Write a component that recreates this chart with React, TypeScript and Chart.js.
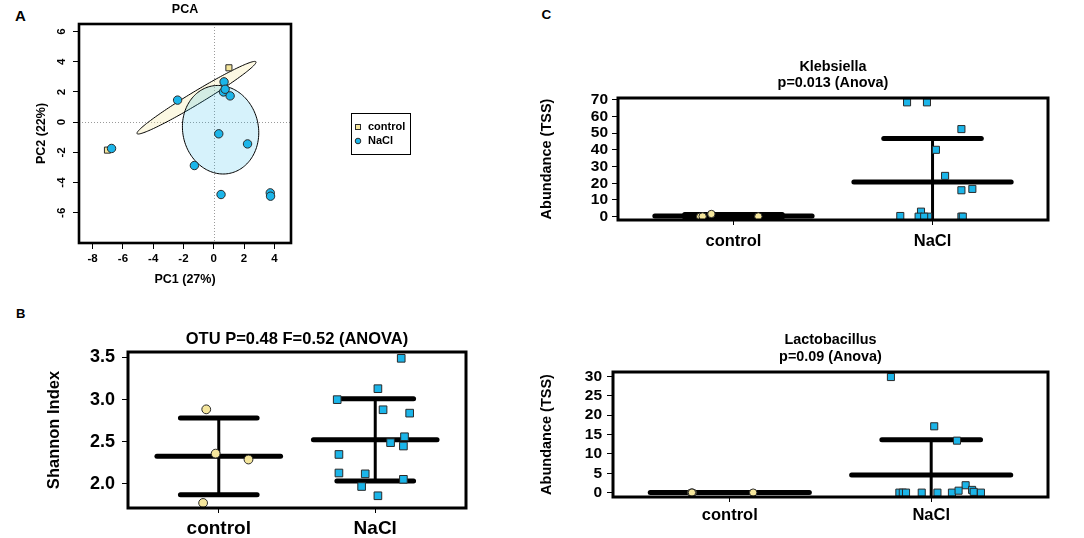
import React, { useEffect, useRef } from "react";
import { Chart, registerables } from "chart.js";

Chart.register(...registerables);

const FONT = "'Liberation Sans', Arial, Helvetica, sans-serif";
const YELLOW = "#F5E69C";
const BLUE = "#1BB5E9";
const EDGE = "#2a2a2a";

const groupLabels = ["control", "NaCl"];

// ---------- Panel A: PCA ----------
const pcaControlX = [1.0, 0.68, 0.72, -7.02];
const pcaControlY = [3.6, 2.58, 2.3, -1.85];
const pcaNaclX = [-2.39, 0.68, 0.64, 0.75, 1.08, -6.75, 0.33, 2.23, -1.28, 0.48, 3.73, 3.75];
const pcaNaclY = [1.46, 2.67, 2.0, 2.18, 1.74, -1.74, -0.77, -1.44, -2.87, -4.79, -4.68, -4.9];
const pcaXTicks = [-8, -6, -4, -2, 0, 2, 4];
const pcaYTicks = [-6, -4, -2, 0, 2, 4, 6];
const pcaControlEllipse = { cx: -1.14, cy: 1.62, a: 4.59, b: 0.42, angle: 31.2 };
const pcaNaclEllipse = { cx: 0.45, cy: -0.5, a: 2.5, b: 2.95, angle: 12 };

// ---------- Panel B: Shannon ----------
const shannonControlX = [0.92, 0.98, 1.19, 0.9];
const shannonControlY = [2.885, 2.36, 2.29, 1.775];
const shannonNaclX = [2.166, 2.017, 1.757, 2.05, 2.22, 2.187, 2.098, 2.18, 1.768, 1.768, 1.936, 2.18, 1.913, 2.017];
const shannonNaclY = [3.49, 3.13, 3.0, 2.88, 2.84, 2.56, 2.49, 2.45, 2.35, 2.13, 2.12, 2.055, 1.97, 1.86];
const shannonYTicks = [2.0, 2.5, 3.0, 3.5];

// ---------- Panel C: Klebsiella ----------
const klebControlX = [0.833, 0.845, 0.889, 1.125];
const klebControlY = [0.0, 0.1, 1.6, 0.1];
const klebNaclX = [1.872, 1.972, 2.145, 2.017, 2.063, 2.145, 2.2, 1.838, 1.942, 1.93, 1.978, 1.958, 2.145, 2.152];
const klebNaclY = [68.4, 68.4, 52.4, 40.0, 24.4, 15.8, 16.6, 0.4, 3.0, 0, 0, 0, 0, 0];
const klebYTicks = [0, 10, 20, 30, 40, 50, 60, 70];

// ---------- Panel C: Lactobacillus ----------
const lactoControlX = [0.808, 0.816, 1.116, 0.812];
const lactoControlY = [0, 0, 0, 0];
const lactoNaclX = [1.8, 2.015, 2.128, 2.171, 1.842, 1.859, 1.875, 1.953, 2.031, 2.103, 2.136, 2.203, 2.211, 2.247];
const lactoNaclY = [29.8, 17.1, 13.4, 1.9, 0, 0, 0, 0, 0, 0, 0.5, 0.7, 0.2, 0];
const lactoYTicks = [0, 5, 10, 15, 20, 25, 30];

// ---------- helpers ----------
type Box = { left: number; top: number; width: number; height: number };
type Area = { left: number; right: number; top: number; bottom: number };

const pts = (xs: number[], ys: number[]) => xs.map((x, i) => ({ x, y: ys[i] }));
const mean = (v: number[]) => v.reduce((a, b) => a + b, 0) / v.length;
const sd = (v: number[]) => {
  const m = mean(v);
  return Math.sqrt(v.reduce((a, b) => a + (b - m) * (b - m), 0) / (v.length - 1));
};

const MEAN_HALF = 0.395;
const SD_HALF = 0.245;

function errorBars(group: number, values: number[]) {
  const m = mean(values);
  const s = sd(values);
  const base = {
    showLine: true,
    pointRadius: 0,
    borderColor: "#000",
    backgroundColor: "#000",
    borderCapStyle: "round",
    order: 2,
    clip: 0,
  };
  return [
    { ...base, borderWidth: 5, data: [{ x: group - MEAN_HALF, y: m }, { x: group + MEAN_HALF, y: m }] },
    { ...base, borderWidth: 5, data: [{ x: group - SD_HALF, y: m + s }, { x: group + SD_HALF, y: m + s }] },
    { ...base, borderWidth: 5, data: [{ x: group - SD_HALF, y: m - s }, { x: group + SD_HALF, y: m - s }] },
    { ...base, borderWidth: 3, borderCapStyle: "butt", data: [{ x: group, y: m - s }, { x: group, y: m + s }] },
  ];
}

const framePlugin = {
  id: "frame",
  afterDatasetsDraw(chart: any, _a: any, opts: any) {
    const { ctx, chartArea: a } = chart;
    ctx.save();
    ctx.lineWidth = opts.width || 3;
    ctx.strokeStyle = "#000";
    ctx.strokeRect(a.left, a.top, a.right - a.left, a.bottom - a.top);
    ctx.restore();
  },
};

function ellipsePath(ctx: any, chart: any, e: any) {
  const xs = chart.scales.x;
  const ys = chart.scales.y;
  const th = (e.angle * Math.PI) / 180;
  ctx.beginPath();
  for (let k = 0; k <= 160; k++) {
    const t = (k / 160) * 2 * Math.PI;
    const u = e.a * Math.cos(t);
    const v = e.b * Math.sin(t);
    const dx = u * Math.cos(th) - v * Math.sin(th);
    const dy = u * Math.sin(th) + v * Math.cos(th);
    const px = xs.getPixelForValue(e.cx + dx);
    const py = ys.getPixelForValue(e.cy + dy);
    if (k === 0) ctx.moveTo(px, py);
    else ctx.lineTo(px, py);
  }
  ctx.closePath();
}

const pcaDecorPlugin = {
  id: "pcaDecor",
  beforeDatasetsDraw(chart: any, _a: any, opts: any) {
    const { ctx, chartArea: a } = chart;
    const xs = chart.scales.x;
    const ys = chart.scales.y;
    ctx.save();
    ctx.beginPath();
    ctx.rect(a.left, a.top, a.right - a.left, a.bottom - a.top);
    ctx.clip();
    // dotted zero lines
    ctx.strokeStyle = "#9a9a9a";
    ctx.lineWidth = 1;
    ctx.setLineDash([1, 2]);
    const x0 = Math.round(xs.getPixelForValue(0)) + 0.5;
    const y0 = Math.round(ys.getPixelForValue(0)) + 0.5;
    ctx.beginPath();
    ctx.moveTo(x0, a.top);
    ctx.lineTo(x0, a.bottom);
    ctx.moveTo(a.left, y0);
    ctx.lineTo(a.right, y0);
    ctx.stroke();
    ctx.setLineDash([]);
    // ellipses
    (opts.ellipses || []).forEach((e: any) => {
      ellipsePath(ctx, chart, e);
      ctx.fillStyle = e.fill;
      ctx.fill();
      ctx.strokeStyle = "#000";
      ctx.lineWidth = 1;
      ctx.stroke();
    });
    ctx.restore();
  },
};

const boxLegendPlugin = {
  id: "boxLegend",
  afterDraw(chart: any, _a: any, o: any) {
    const ctx = chart.ctx;
    ctx.save();
    ctx.strokeStyle = "#000";
    ctx.lineWidth = 1;
    ctx.strokeRect(o.x + 0.5, o.y + 0.5, o.w, o.h);
    ctx.font = `bold ${o.fontSize}px ${FONT}`;
    ctx.textBaseline = "middle";
    ctx.textAlign = "left";
    const items = chart.data.datasets.filter((d: any) => d.label);
    items.forEach((d: any, i: number) => {
      const cy = o.y + o.firstRow + i * o.rowGap;
      ctx.fillStyle = d.backgroundColor;
      ctx.strokeStyle = EDGE;
      ctx.lineWidth = 1;
      if (d.pointStyle === "rect") {
        const s = o.markerSize;
        ctx.fillRect(o.markerX - s / 2, cy - s / 2, s, s);
        ctx.strokeRect(o.markerX - s / 2, cy - s / 2, s, s);
      } else {
        ctx.beginPath();
        ctx.arc(o.markerX, cy, o.markerSize / 2 + 0.3, 0, Math.PI * 2);
        ctx.fill();
        ctx.stroke();
      }
      ctx.fillStyle = "#000";
      ctx.fillText(d.label, o.textX, cy);
    });
    ctx.restore();
  },
};

const bold = (size: number, lineHeight = 1.2) => ({ family: FONT, size, weight: "bold" as const, lineHeight });

// ---------- PCA config ----------
const A_BOX: Box = { left: 0, top: 0, width: 440, height: 290 };
const A_AREA: Area = { left: 79, right: 291, top: 24, bottom: 243 };

function pcaConfig(): any {
  const box = A_BOX;
  const area = A_AREA;
  const titleSize = 12.5;
  const lh = titleSize * 1.2;
  const padTop = 9.6 - lh / 2;
  const titlePb = area.top - box.top - padTop - lh;
  const tickSize = 11.5;
  return {
    type: "scatter",
    data: {
      datasets: [
        {
          label: "control",
          data: pts(pcaControlX, pcaControlY),
          pointStyle: "rect",
          pointRadius: 4.3,
          backgroundColor: YELLOW,
          borderColor: EDGE,
          borderWidth: 1,
          order: 1,
          clip: false,
        },
        {
          label: "NaCl",
          data: pts(pcaNaclX, pcaNaclY),
          pointStyle: "circle",
          pointRadius: 4.2,
          backgroundColor: BLUE,
          borderColor: EDGE,
          borderWidth: 1,
          order: 0,
          clip: false,
        },
      ],
    },
    options: {
      responsive: false,
      maintainAspectRatio: false,
      animation: false,
      events: [],
      layout: { padding: { top: padTop, left: 0, right: box.width - area.right, bottom: 0 } },
      plugins: {
        legend: { display: false },
        tooltip: { enabled: false },
        title: {
          display: true,
          text: "PCA",
          fullSize: false,
          color: "#000",
          font: bold(titleSize),
          padding: { top: 0, bottom: titlePb },
        },
        frame: { width: 2.6 },
        pcaDecor: {
          ellipses: [
            { ...pcaControlEllipse, fill: "rgba(245,230,156,0.28)" },
            { ...pcaNaclEllipse, fill: "rgba(27,181,233,0.18)" },
          ],
        },
        boxLegend: {
          x: 351,
          y: 113,
          w: 59,
          h: 41,
          fontSize: 11,
          markerX: 358,
          markerSize: 5,
          textX: 368,
          firstRow: 14,
          rowGap: 14,
        },
      },
      scales: {
        x: {
          type: "linear",
          min: -8.9,
          max: 5.1,
          afterBuildTicks: (s: any) => {
            s.ticks = pcaXTicks.map((v) => ({ value: v }));
          },
          afterFit: (s: any) => {
            s.height = box.height - area.bottom;
          },
          grid: { drawOnChartArea: false, drawTicks: true, tickLength: 6, color: "#000", lineWidth: 1 },
          border: { display: false },
          ticks: {
            autoSkip: false,
            maxRotation: 0,
            color: "#000",
            padding: 3.1,
            font: bold(tickSize),
            callback: (v: any) => String(v),
          },
          title: {
            display: true,
            text: "PC1 (27%)",
            color: "#000",
            font: bold(12.5),
            padding: { top: 0, bottom: 2.9 },
          },
        },
        y: {
          type: "linear",
          min: -8,
          max: 6.5,
          afterBuildTicks: (s: any) => {
            s.ticks = pcaYTicks.map((v) => ({ value: v }));
          },
          afterFit: (s: any) => {
            s.width = area.left - box.left;
          },
          grid: { drawOnChartArea: false, drawTicks: true, tickLength: 6, color: "#000", lineWidth: 1 },
          border: { display: false },
          ticks: {
            autoSkip: false,
            minRotation: 90,
            maxRotation: 90,
            crossAlign: "center",
            color: "#000",
            padding: 5.9,
            font: bold(tickSize),
            callback: (v: any) => String(v),
          },
          title: {
            display: true,
            text: "PC2 (22%)",
            color: "#000",
            font: bold(12.5),
            padding: { top: 34.3, bottom: 0 },
          },
        },
      },
    },
    plugins: [pcaDecorPlugin, framePlugin, boxLegendPlugin],
  };
}

// ---------- strip chart config ----------
interface StripSpec {
  box: Box;
  area: Area;
  title: string[];
  titleSize: number;
  titleLine: number;
  titleMid: number;
  yTitle: string;
  yTitleSize: number;
  yTitleMid: number;
  yMin: number;
  yMax: number;
  yTicks: number[];
  yDecimals: number;
  yTickSize: number;
  yLabelRight: number;
  xLabelSize: number;
  xLabelMid: number;
  ctlX: number[];
  ctlY: number[];
  naclX: number[];
  naclY: number[];
  ctlRadius: number;
  naclRadius: number;
  frameWidth: number;
}

function stripConfig(s: StripSpec): any {
  const yTl = 6;
  const xTl = 5;
  const lhTitle = s.titleSize * s.titleLine;
  const padTop = s.titleMid - s.box.top - lhTitle / 2;
  const titlePb = s.area.top - s.box.top - padTop - lhTitle * s.title.length;
  const yAxisW = s.area.left - s.box.left;
  const padRight = s.box.left + s.box.width - s.area.right;
  const xAxisH = s.box.top + s.box.height - s.area.bottom;
  const yTickPad = s.area.left - s.yLabelRight - yTl;
  const yTitlePad = s.yTitleMid - s.box.left - (s.yTitleSize * 1.2) / 2;
  const xTickPad = s.xLabelMid - s.area.bottom - xTl - (s.xLabelSize * 1.2) / 2;
  return {
    type: "scatter",
    data: {
      datasets: [
        {
          label: "control",
          data: pts(s.ctlX, s.ctlY),
          pointStyle: "circle",
          pointRadius: s.ctlRadius,
          backgroundColor: YELLOW,
          borderColor: EDGE,
          borderWidth: 1,
          order: 0,
          clip: false,
        },
        {
          label: "NaCl",
          data: pts(s.naclX, s.naclY),
          pointStyle: "rect",
          pointRadius: s.naclRadius,
          backgroundColor: BLUE,
          borderColor: EDGE,
          borderWidth: 1,
          order: 0,
          clip: false,
        },
        ...errorBars(1, s.ctlY),
        ...errorBars(2, s.naclY),
      ],
    },
    options: {
      responsive: false,
      maintainAspectRatio: false,
      animation: false,
      events: [],
      layout: { padding: { top: padTop, left: 0, right: padRight, bottom: 0 } },
      plugins: {
        legend: { display: false },
        tooltip: { enabled: false },
        title: {
          display: true,
          text: s.title,
          fullSize: false,
          color: "#000",
          font: bold(s.titleSize, s.titleLine),
          padding: { top: 0, bottom: titlePb },
        },
        frame: { width: s.frameWidth },
      },
      scales: {
        x: {
          type: "linear",
          min: 0.42,
          max: 2.58,
          afterBuildTicks: (sc: any) => {
            sc.ticks = [1, 2].map((v) => ({ value: v }));
          },
          afterFit: (sc: any) => {
            sc.height = xAxisH;
          },
          grid: { drawOnChartArea: false, drawTicks: true, tickLength: xTl, color: "#000", lineWidth: 1 },
          border: { display: false },
          ticks: {
            autoSkip: false,
            maxRotation: 0,
            color: "#000",
            padding: xTickPad,
            font: bold(s.xLabelSize),
            callback: (_v: any, i: number) => groupLabels[i],
          },
        },
        y: {
          type: "linear",
          min: s.yMin,
          max: s.yMax,
          afterBuildTicks: (sc: any) => {
            sc.ticks = s.yTicks.map((v) => ({ value: v }));
          },
          afterFit: (sc: any) => {
            sc.width = yAxisW;
          },
          grid: { drawOnChartArea: false, drawTicks: true, tickLength: yTl, color: "#000", lineWidth: 1 },
          border: { display: false },
          ticks: {
            autoSkip: false,
            color: "#000",
            padding: yTickPad,
            font: bold(s.yTickSize),
            callback: (v: any) => Number(v).toFixed(s.yDecimals),
          },
          title: {
            display: true,
            text: s.yTitle,
            color: "#000",
            font: bold(s.yTitleSize),
            padding: { top: yTitlePad, bottom: 0 },
          },
        },
      },
    },
    plugins: [framePlugin],
  };
}

const B_SPEC: StripSpec = {
  box: { left: 0, top: 300, width: 480, height: 238 },
  area: { left: 128, right: 466, top: 352, bottom: 508 },
  title: ["OTU P=0.48 F=0.52 (ANOVA)"],
  titleSize: 16.5,
  titleLine: 1.2,
  titleMid: 339,
  yTitle: "Shannon Index",
  yTitleSize: 16.5,
  yTitleMid: 54.2,
  yMin: 1.715,
  yMax: 3.565,
  yTicks: shannonYTicks,
  yDecimals: 1,
  yTickSize: 18,
  yLabelRight: 115,
  xLabelSize: 19,
  xLabelMid: 528.4,
  ctlX: shannonControlX,
  ctlY: shannonControlY,
  naclX: shannonNaclX,
  naclY: shannonNaclY,
  ctlRadius: 4.4,
  naclRadius: 5.4,
  frameWidth: 3,
};

const CK_SPEC: StripSpec = {
  box: { left: 530, top: 40, width: 554, height: 210 },
  area: { left: 618, right: 1048, top: 98, bottom: 220 },
  title: ["Klebsiella", "p=0.013 (Anova)"],
  titleSize: 14.4,
  titleLine: 16.5 / 14.4,
  titleMid: 66.75,
  yTitle: "Abundance (TSS)",
  yTitleSize: 14.5,
  yTitleMid: 547,
  yMin: -2,
  yMax: 71,
  yTicks: klebYTicks,
  yDecimals: 0,
  yTickSize: 15.5,
  yLabelRight: 608,
  xLabelSize: 16.5,
  xLabelMid: 241,
  ctlX: klebControlX,
  ctlY: klebControlY,
  naclX: klebNaclX,
  naclY: klebNaclY,
  ctlRadius: 3.7,
  naclRadius: 5,
  frameWidth: 3,
};

const CL_SPEC: StripSpec = {
  box: { left: 530, top: 290, width: 554, height: 248 },
  area: { left: 613, right: 1048, top: 372, bottom: 497 },
  title: ["Lactobacillus", "p=0.09 (Anova)"],
  titleSize: 14.4,
  titleLine: 16.5 / 14.4,
  titleMid: 340.25,
  yTitle: "Abundance (TSS)",
  yTitleSize: 14.5,
  yTitleMid: 547,
  yMin: -1.13,
  yMax: 31.1,
  yTicks: lactoYTicks,
  yDecimals: 0,
  yTickSize: 15.5,
  yLabelRight: 602,
  xLabelSize: 16.5,
  xLabelMid: 515.7,
  ctlX: lactoControlX,
  ctlY: lactoControlY,
  naclX: lactoNaclX,
  naclY: lactoNaclY,
  ctlRadius: 3.7,
  naclRadius: 5,
  frameWidth: 3,
};

function ChartCanvas({ box, make }: { box: Box; make: () => any }) {
  const ref = useRef<HTMLCanvasElement>(null);
  useEffect(() => {
    const chart = new Chart(ref.current as HTMLCanvasElement, make());
    return () => chart.destroy();
  }, []);
  return (
    <canvas
      ref={ref}
      width={box.width}
      height={box.height}
      style={{ position: "absolute", left: box.left, top: box.top, width: box.width, height: box.height }}
    />
  );
}

function PanelLetter({ text, left, top, size }: { text: string; left: number; top: number; size: number }) {
  return (
    <div
      style={{
        position: "absolute",
        left,
        top,
        fontFamily: FONT,
        fontWeight: "bold",
        fontSize: size,
        lineHeight: 1,
        color: "#000",
      }}
    >
      {text}
    </div>
  );
}

export default function App() {
  return (
    <div style={{ position: "absolute", left: 0, top: 0, width: 1084, height: 538, background: "#fff", overflow: "hidden" }}>
      <PanelLetter text="A" left={15} top={8} size={15} />
      <PanelLetter text="B" left={16} top={306.6} size={13} />
      <PanelLetter text="C" left={541.5} top={8.2} size={13.5} />
      <ChartCanvas box={A_BOX} make={pcaConfig} />
      <ChartCanvas box={B_SPEC.box} make={() => stripConfig(B_SPEC)} />
      <ChartCanvas box={CK_SPEC.box} make={() => stripConfig(CK_SPEC)} />
      <ChartCanvas box={CL_SPEC.box} make={() => stripConfig(CL_SPEC)} />
    </div>
  );
}
